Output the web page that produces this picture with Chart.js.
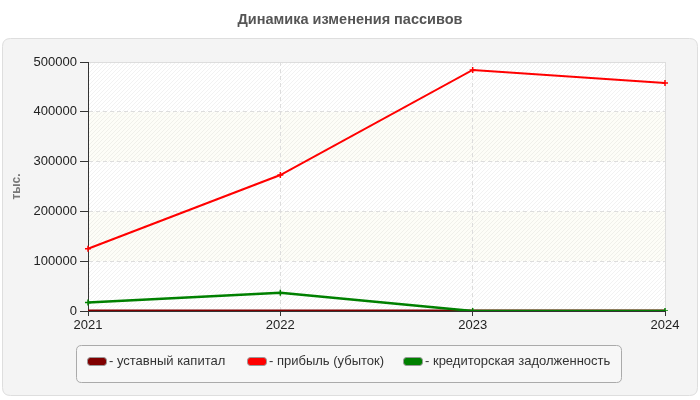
<!DOCTYPE html>
<html><head><meta charset="utf-8">
<script src="https://cdn.jsdelivr.net/npm/chart.js@4"></script>
<style>html,body{margin:0;padding:0;background:#fff}#wrap{width:700px;height:400px;position:relative}</style>
</head><body><div id="wrap"><canvas id="c" width="700" height="400"></canvas></div>
<script>
const years = ['2021','2022','2023','2024'];
const capital = [10, 10, 10, 10];
const profit = [125000, 273000, 484000, 458000];
const payables = [17000, 36500, 0, 0];
const seriesNames = ['- уставный капитал', '- прибыль (убыток)', '- кредиторская задолженность'];
const seriesColors = ['#800000', '#ff0000', '#008000'];
const yTicks = [0, 100000, 200000, 300000, 400000, 500000];
const chartTitle = 'Динамика изменения пассивов';
const yTitle = 'тыс.';

const FONT = '"Liberation Sans", Arial, sans-serif';

function rr(ctx, x, y, w, h, r) {
  ctx.beginPath();
  ctx.moveTo(x + r, y); ctx.lineTo(x + w - r, y); ctx.quadraticCurveTo(x + w, y, x + w, y + r);
  ctx.lineTo(x + w, y + h - r); ctx.quadraticCurveTo(x + w, y + h, x + w - r, y + h);
  ctx.lineTo(x + r, y + h); ctx.quadraticCurveTo(x, y + h, x, y + h - r);
  ctx.lineTo(x, y + r); ctx.quadraticCurveTo(x, y, x + r, y); ctx.closePath();
}

const deco = {
  id: 'deco',
  beforeDraw(chart) {
    const ctx = chart.ctx, a = chart.chartArea, ys = chart.scales.y;
    ctx.save();
    ctx.fillStyle = '#fff'; ctx.fillRect(0, 0, 700, 400);
    // title
    ctx.fillStyle = '#555'; ctx.font = 'bold 14.5px ' + FONT;
    ctx.textAlign = 'center'; ctx.textBaseline = 'middle';
    ctx.fillText(chartTitle, 350, 20);
    // panel
    rr(ctx, 2.5, 38.5, 695, 357, 8);
    ctx.fillStyle = '#f4f4f4'; ctx.fill();
    ctx.strokeStyle = '#dedede'; ctx.lineWidth = 1; ctx.stroke();
    // plot bands
    ctx.fillStyle = '#ffffff'; ctx.fillRect(a.left, a.top, a.right - a.left, a.bottom - a.top);
    for (let i = 0; i < yTicks.length - 1; i++) {
      if (i % 2 === 1) {
        const y1 = ys.getPixelForValue(yTicks[i + 1]), y0 = ys.getPixelForValue(yTicks[i]);
        ctx.fillStyle = '#fdfdf7'; ctx.fillRect(a.left, y1, a.right - a.left, y0 - y1);
      }
    }
    // hatch
    ctx.save();
    ctx.beginPath(); ctx.rect(a.left, a.top, a.right - a.left, a.bottom - a.top); ctx.clip();
    ctx.strokeStyle = 'rgba(0,0,0,0.05)'; ctx.lineWidth = 1;
    const h = a.bottom - a.top;
    for (let x = a.left - h; x < a.right + 5; x += 4) {
      ctx.beginPath(); ctx.moveTo(x, a.bottom); ctx.lineTo(x + h, a.top); ctx.stroke();
    }
    ctx.restore();
    // border top/right
    ctx.strokeStyle = '#dddddd'; ctx.lineWidth = 1;
    ctx.beginPath(); ctx.moveTo(a.left, a.top + 0.5); ctx.lineTo(a.right + 0.5, a.top + 0.5); ctx.lineTo(a.right + 0.5, a.bottom); ctx.stroke();
    // y title
    ctx.save();
    ctx.translate(17, (a.top + a.bottom) / 2);
    ctx.rotate(-Math.PI / 2);
    ctx.fillStyle = '#777'; ctx.font = 'bold 12px ' + FONT;
    ctx.textAlign = 'center'; ctx.textBaseline = 'middle';
    ctx.fillText(yTitle, 0, 0);
    ctx.restore();
    // legend box
    rr(ctx, 76.5, 345.5, 545, 37, 5);
    ctx.fillStyle = '#f7f7f7'; ctx.fill();
    ctx.strokeStyle = '#aaaaaa'; ctx.stroke();
    const sx = [87, 247, 403];
    ctx.font = '13px ' + FONT; ctx.textAlign = 'left'; ctx.textBaseline = 'middle';
    for (let i = 0; i < 3; i++) {
      rr(ctx, sx[i] + 0.5, 357.5, 19, 8, 3);
      ctx.fillStyle = seriesColors[i]; ctx.fill();
      ctx.strokeStyle = '#999'; ctx.stroke();
      ctx.fillStyle = '#333';
      ctx.fillText(seriesNames[i], sx[i] + 22, 361);
    }
    ctx.restore();
  }
};

new Chart(document.getElementById('c'), {
  type: 'line',
  data: {
    labels: years,
    datasets: [
      { label: seriesNames[2], data: payables, borderColor: seriesColors[2], backgroundColor: seriesColors[2], borderWidth: 2.5, tension: 0, pointStyle: 'cross', pointRadius: 3, pointBorderWidth: 1.5 },
      { label: seriesNames[1], data: profit, borderColor: seriesColors[1], backgroundColor: seriesColors[1], borderWidth: 2, tension: 0, pointStyle: 'cross', pointRadius: 3, pointBorderWidth: 1.5 },
      { label: seriesNames[0], data: capital, borderColor: seriesColors[0], backgroundColor: seriesColors[0], borderWidth: 3, tension: 0, pointRadius: 0 }
    ]
  },
  options: {
    responsive: false, animation: false,
    layout: { padding: { top: 62, right: 35, left: 0, bottom: 0 } },
    plugins: { legend: { display: false }, title: { display: false }, tooltip: { enabled: false } },
    scales: {
      x: {
        offset: false,
        afterFit: s => { s.height = 89; },
        grid: { color: '#dddddd', tickColor: '#333', tickLength: 5, drawTicks: true },
        border: { color: '#333', dash: [4, 3], display: true },
        ticks: { color: '#222', font: { size: 13, family: FONT }, padding: 2, maxRotation: 0 }
      },
      y: {
        min: 0, max: 500000,
        afterFit: s => { s.width = 88; },
        afterBuildTicks: s => { s.ticks = yTicks.map(v => ({ value: v })); },
        grid: { color: '#dddddd', tickColor: '#333', tickLength: 8 },
        border: { color: '#333', dash: [4, 3] },
        ticks: { color: '#222', font: { size: 13, family: FONT }, padding: 3, callback: v => String(v) }
      }
    }
  },
  plugins: [deco]
});
</script></body></html>
